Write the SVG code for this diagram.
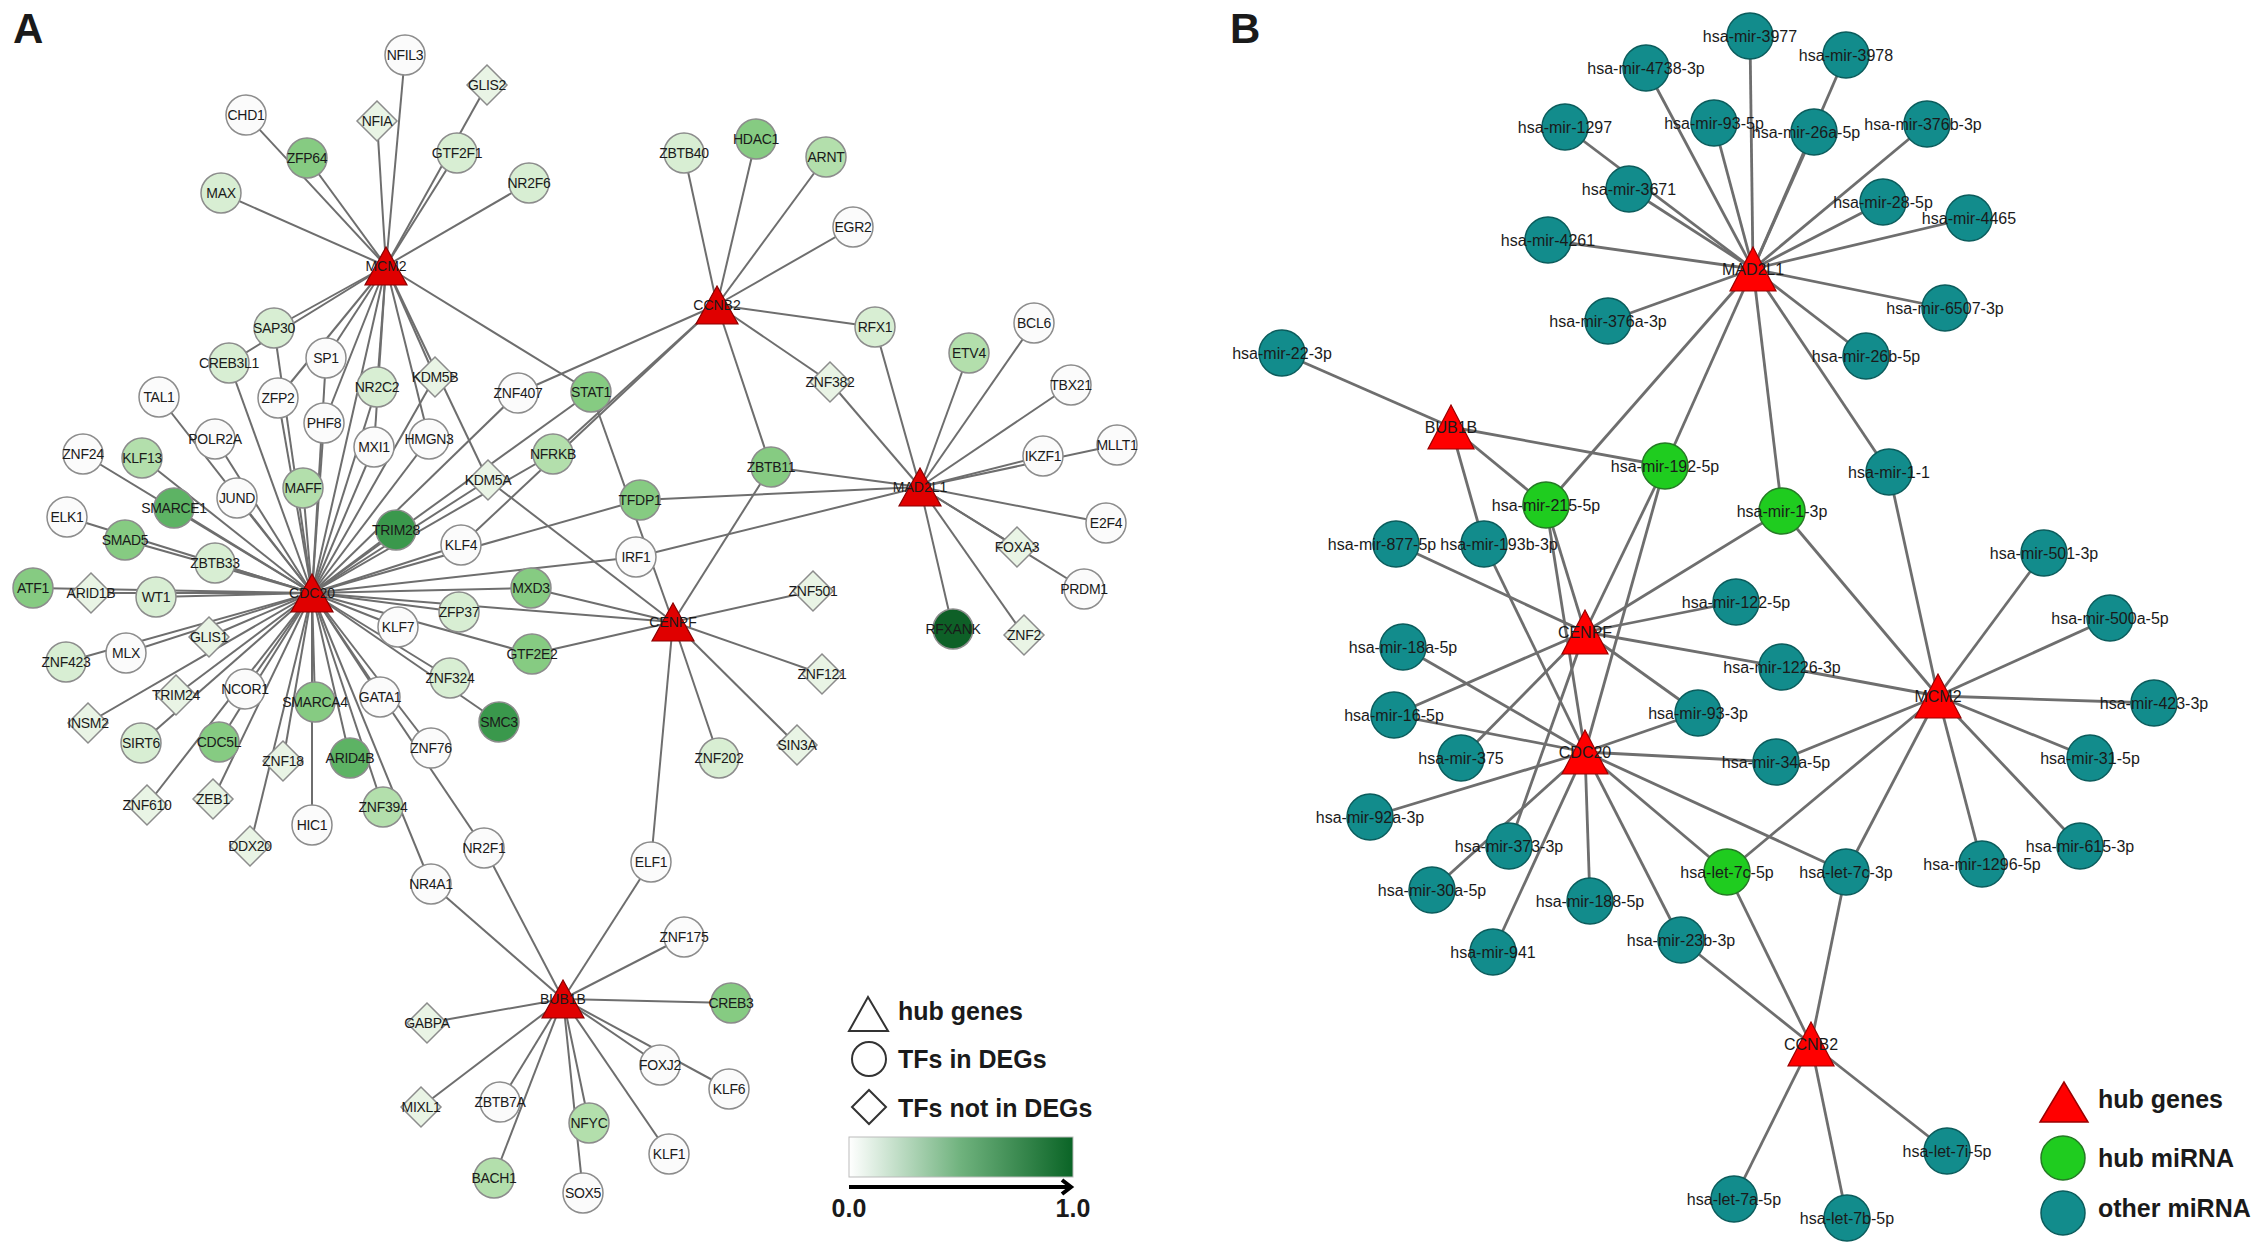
<svg xmlns="http://www.w3.org/2000/svg" width="2268" height="1256" viewBox="0 0 2268 1256">
<style>
text{font-family:"Liberation Sans",Arial,sans-serif;fill:#1a1a1a}
.ea line{stroke:#6e6e6e;stroke-width:2}
.eb line{stroke:#6e6e6e;stroke-width:2.8}
.na circle,.na polygon{stroke:#8c8c8c;stroke-width:1.5}
.na text{font-size:14px;text-anchor:middle;letter-spacing:-0.3px}
.nb text{font-size:16px;text-anchor:middle}
.hubA polygon{fill:#e00000;stroke:#8a0000;stroke-width:1.2}
.hubA text{font-size:14px;text-anchor:middle}
.hubB polygon{fill:#ff0000;stroke:#9a0000;stroke-width:1.2}
.hubB text{font-size:16px;text-anchor:middle}
.mi circle{fill:#128c8c;stroke:#0b5c5c;stroke-width:1.5}
.hm circle{fill:#1fcc1f;stroke:#257a25;stroke-width:1.5}
.w{fill:#fbfbfb}.l1{fill:#e9f4e5}.l2{fill:#d8eed3}.g3{fill:#b3dfac}.g4{fill:#86cb82}.g5{fill:#5db364}.g6{fill:#3a984c}.g7{fill:#0e6027}
.lg{font-size:25px;font-weight:bold}
.pl{font-size:42px;font-weight:bold}
</style>
<defs>
<linearGradient id="grad" x1="0" y1="0" x2="1" y2="0">
<stop offset="0" stop-color="#ffffff"/>
<stop offset="0.5" stop-color="#6fb27d"/>
<stop offset="1" stop-color="#0a6426"/>
</linearGradient>
</defs>
<rect width="2268" height="1256" fill="#ffffff"/>
<text class="pl" x="13" y="43">A</text>
<text class="pl" x="1230" y="43">B</text>

<g id="edges-a" class="ea">
<line x1="386" y1="266" x2="405" y2="55"/><line x1="386" y1="266" x2="487" y2="85"/><line x1="386" y1="266" x2="246" y2="115"/><line x1="386" y1="266" x2="377" y2="121"/><line x1="386" y1="266" x2="307" y2="158"/><line x1="386" y1="266" x2="457" y2="153"/><line x1="386" y1="266" x2="221" y2="193"/><line x1="386" y1="266" x2="529" y2="183"/><line x1="386" y1="266" x2="274" y2="328"/><line x1="386" y1="266" x2="229" y2="363"/><line x1="386" y1="266" x2="326" y2="358"/><line x1="386" y1="266" x2="278" y2="398"/><line x1="386" y1="266" x2="377" y2="387"/><line x1="386" y1="266" x2="435" y2="377"/><line x1="386" y1="266" x2="488" y2="480"/><line x1="386" y1="266" x2="324" y2="423"/><line x1="386" y1="266" x2="374" y2="447"/><line x1="386" y1="266" x2="429" y2="439"/><line x1="386" y1="266" x2="591" y2="392"/><line x1="386" y1="266" x2="312" y2="593"/>
<line x1="717" y1="305" x2="684" y2="153"/><line x1="717" y1="305" x2="756" y2="139"/><line x1="717" y1="305" x2="826" y2="157"/><line x1="717" y1="305" x2="853" y2="227"/><line x1="717" y1="305" x2="875" y2="327"/><line x1="717" y1="305" x2="830" y2="382"/><line x1="717" y1="305" x2="771" y2="467"/><line x1="717" y1="305" x2="518" y2="393"/><line x1="717" y1="305" x2="461" y2="545"/><line x1="717" y1="305" x2="553" y2="454"/>
<line x1="920" y1="487" x2="830" y2="382"/><line x1="920" y1="487" x2="875" y2="327"/><line x1="920" y1="487" x2="969" y2="353"/><line x1="920" y1="487" x2="1034" y2="323"/><line x1="920" y1="487" x2="1071" y2="385"/><line x1="920" y1="487" x2="1043" y2="456"/><line x1="920" y1="487" x2="1117" y2="445"/><line x1="920" y1="487" x2="1106" y2="523"/><line x1="920" y1="487" x2="1017" y2="547"/><line x1="920" y1="487" x2="1084" y2="589"/><line x1="920" y1="487" x2="953" y2="629"/><line x1="920" y1="487" x2="1024" y2="635"/><line x1="920" y1="487" x2="771" y2="467"/><line x1="920" y1="487" x2="640" y2="500"/><line x1="920" y1="487" x2="636" y2="557"/>
<line x1="673" y1="622" x2="813" y2="591"/><line x1="673" y1="622" x2="822" y2="674"/><line x1="673" y1="622" x2="797" y2="745"/><line x1="673" y1="622" x2="719" y2="758"/><line x1="673" y1="622" x2="651" y2="862"/><line x1="673" y1="622" x2="771" y2="467"/><line x1="673" y1="622" x2="488" y2="480"/><line x1="673" y1="622" x2="591" y2="392"/><line x1="673" y1="622" x2="532" y2="654"/><line x1="673" y1="622" x2="531" y2="588"/><line x1="673" y1="622" x2="312" y2="593"/>
<line x1="563" y1="999" x2="651" y2="862"/><line x1="563" y1="999" x2="484" y2="848"/><line x1="563" y1="999" x2="431" y2="884"/><line x1="563" y1="999" x2="684" y2="937"/><line x1="563" y1="999" x2="731" y2="1003"/><line x1="563" y1="999" x2="427" y2="1023"/><line x1="563" y1="999" x2="660" y2="1065"/><line x1="563" y1="999" x2="729" y2="1089"/><line x1="563" y1="999" x2="421" y2="1107"/><line x1="563" y1="999" x2="500" y2="1102"/><line x1="563" y1="999" x2="589" y2="1123"/><line x1="563" y1="999" x2="669" y2="1154"/><line x1="563" y1="999" x2="494" y2="1178"/><line x1="563" y1="999" x2="583" y2="1193"/>
<line x1="312" y1="593" x2="83" y2="454"/><line x1="312" y1="593" x2="142" y2="458"/><line x1="312" y1="593" x2="174" y2="508"/><line x1="312" y1="593" x2="67" y2="517"/><line x1="312" y1="593" x2="125" y2="540"/><line x1="312" y1="593" x2="215" y2="563"/><line x1="312" y1="593" x2="33" y2="588"/><line x1="312" y1="593" x2="91" y2="593"/><line x1="312" y1="593" x2="156" y2="597"/><line x1="312" y1="593" x2="66" y2="662"/><line x1="312" y1="593" x2="126" y2="653"/><line x1="312" y1="593" x2="209" y2="637"/><line x1="312" y1="593" x2="176" y2="695"/><line x1="312" y1="593" x2="88" y2="723"/><line x1="312" y1="593" x2="245" y2="689"/><line x1="312" y1="593" x2="141" y2="743"/><line x1="312" y1="593" x2="219" y2="742"/><line x1="312" y1="593" x2="147" y2="805"/><line x1="312" y1="593" x2="213" y2="799"/><line x1="312" y1="593" x2="283" y2="761"/><line x1="312" y1="593" x2="250" y2="846"/><line x1="312" y1="593" x2="312" y2="825"/><line x1="312" y1="593" x2="315" y2="702"/><line x1="312" y1="593" x2="350" y2="758"/><line x1="312" y1="593" x2="383" y2="807"/><line x1="312" y1="593" x2="431" y2="884"/><line x1="312" y1="593" x2="380" y2="697"/><line x1="312" y1="593" x2="431" y2="748"/><line x1="312" y1="593" x2="484" y2="848"/><line x1="312" y1="593" x2="450" y2="678"/><line x1="312" y1="593" x2="499" y2="722"/><line x1="312" y1="593" x2="398" y2="627"/><line x1="312" y1="593" x2="459" y2="612"/><line x1="312" y1="593" x2="532" y2="654"/><line x1="312" y1="593" x2="531" y2="588"/><line x1="312" y1="593" x2="461" y2="545"/><line x1="312" y1="593" x2="396" y2="530"/><line x1="312" y1="593" x2="488" y2="480"/><line x1="312" y1="593" x2="553" y2="454"/><line x1="312" y1="593" x2="518" y2="393"/><line x1="312" y1="593" x2="636" y2="557"/><line x1="312" y1="593" x2="640" y2="500"/><line x1="312" y1="593" x2="159" y2="397"/><line x1="312" y1="593" x2="215" y2="439"/><line x1="312" y1="593" x2="237" y2="498"/><line x1="312" y1="593" x2="303" y2="488"/><line x1="312" y1="593" x2="324" y2="423"/><line x1="312" y1="593" x2="326" y2="358"/><line x1="312" y1="593" x2="374" y2="447"/><line x1="312" y1="593" x2="429" y2="439"/><line x1="312" y1="593" x2="278" y2="398"/><line x1="312" y1="593" x2="229" y2="363"/><line x1="312" y1="593" x2="274" y2="328"/><line x1="312" y1="593" x2="377" y2="387"/><line x1="312" y1="593" x2="435" y2="377"/><line x1="312" y1="593" x2="591" y2="392"/>
</g>

<g id="edges-b" class="eb">
<line x1="1753" y1="269" x2="1750" y2="36"/><line x1="1753" y1="269" x2="1846" y2="55"/><line x1="1753" y1="269" x2="1646" y2="68"/><line x1="1753" y1="269" x2="1565" y2="127"/><line x1="1753" y1="269" x2="1714" y2="123"/><line x1="1753" y1="269" x2="1814" y2="132"/><line x1="1753" y1="269" x2="1927" y2="124"/><line x1="1753" y1="269" x2="1629" y2="189"/><line x1="1753" y1="269" x2="1883" y2="202"/><line x1="1753" y1="269" x2="1969" y2="218"/><line x1="1753" y1="269" x2="1548" y2="240"/><line x1="1753" y1="269" x2="1945" y2="308"/><line x1="1753" y1="269" x2="1608" y2="321"/><line x1="1753" y1="269" x2="1866" y2="356"/><line x1="1753" y1="269" x2="1546" y2="505"/><line x1="1753" y1="269" x2="1665" y2="466"/><line x1="1753" y1="269" x2="1782" y2="511"/><line x1="1753" y1="269" x2="1889" y2="472"/>
<line x1="1451" y1="427" x2="1282" y2="353"/><line x1="1451" y1="427" x2="1665" y2="466"/><line x1="1451" y1="427" x2="1546" y2="505"/><line x1="1451" y1="427" x2="1484" y2="544"/>
<line x1="1585" y1="632" x2="1396" y2="544"/><line x1="1585" y1="632" x2="1546" y2="505"/><line x1="1585" y1="632" x2="1665" y2="466"/><line x1="1585" y1="632" x2="1782" y2="511"/><line x1="1585" y1="632" x2="1736" y2="602"/><line x1="1585" y1="632" x2="1782" y2="667"/><line x1="1585" y1="632" x2="1698" y2="713"/><line x1="1585" y1="632" x2="1394" y2="715"/><line x1="1585" y1="632" x2="1461" y2="758"/><line x1="1585" y1="632" x2="1509" y2="846"/>
<line x1="1585" y1="752" x2="1484" y2="544"/><line x1="1585" y1="752" x2="1403" y2="647"/><line x1="1585" y1="752" x2="1394" y2="715"/><line x1="1585" y1="752" x2="1370" y2="817"/><line x1="1585" y1="752" x2="1432" y2="890"/><line x1="1585" y1="752" x2="1493" y2="952"/><line x1="1585" y1="752" x2="1590" y2="901"/><line x1="1585" y1="752" x2="1681" y2="940"/><line x1="1585" y1="752" x2="1727" y2="872"/><line x1="1585" y1="752" x2="1846" y2="872"/><line x1="1585" y1="752" x2="1776" y2="762"/><line x1="1585" y1="752" x2="1698" y2="713"/><line x1="1585" y1="752" x2="1546" y2="505"/><line x1="1585" y1="752" x2="1665" y2="466"/>
<line x1="1938" y1="696" x2="1889" y2="472"/><line x1="1938" y1="696" x2="1782" y2="511"/><line x1="1938" y1="696" x2="2044" y2="553"/><line x1="1938" y1="696" x2="2110" y2="618"/><line x1="1938" y1="696" x2="2154" y2="703"/><line x1="1938" y1="696" x2="2090" y2="758"/><line x1="1938" y1="696" x2="2080" y2="846"/><line x1="1938" y1="696" x2="1982" y2="864"/><line x1="1938" y1="696" x2="1846" y2="872"/><line x1="1938" y1="696" x2="1727" y2="872"/><line x1="1938" y1="696" x2="1776" y2="762"/><line x1="1938" y1="696" x2="1782" y2="667"/>
<line x1="1811" y1="1044" x2="1681" y2="940"/><line x1="1811" y1="1044" x2="1727" y2="872"/><line x1="1811" y1="1044" x2="1846" y2="872"/><line x1="1811" y1="1044" x2="1947" y2="1151"/><line x1="1811" y1="1044" x2="1734" y2="1199"/><line x1="1811" y1="1044" x2="1847" y2="1218"/>
</g>

<g id="nodes-a" class="na">
<g id="a-NFIL3"><circle class="w" cx="405" cy="55" r="20"/><text x="405" y="60">NFIL3</text></g>
<g id="a-GLIS2"><polygon class="l1" transform="translate(487,85)" points="0,-20 20,0 0,20 -20,0"/><text x="487" y="90">GLIS2</text></g>
<g id="a-CHD1"><circle class="w" cx="246" cy="115" r="20"/><text x="246" y="120">CHD1</text></g>
<g id="a-NFIA"><polygon class="l1" transform="translate(377,121)" points="0,-20 20,0 0,20 -20,0"/><text x="377" y="126">NFIA</text></g>
<g id="a-ZFP64"><circle class="g4" cx="307" cy="158" r="20"/><text x="307" y="163">ZFP64</text></g>
<g id="a-GTF2F1"><circle class="l2" cx="457" cy="153" r="20"/><text x="457" y="158">GTF2F1</text></g>
<g id="a-MAX"><circle class="l2" cx="221" cy="193" r="20"/><text x="221" y="198">MAX</text></g>
<g id="a-NR2F6"><circle class="l2" cx="529" cy="183" r="20"/><text x="529" y="188">NR2F6</text></g>
<g id="a-SAP30"><circle class="l2" cx="274" cy="328" r="20"/><text x="274" y="333">SAP30</text></g>
<g id="a-CREB3L1"><circle class="l2" cx="229" cy="363" r="20"/><text x="229" y="368">CREB3L1</text></g>
<g id="a-SP1"><circle class="w" cx="326" cy="358" r="20"/><text x="326" y="363">SP1</text></g>
<g id="a-ZFP2"><circle class="w" cx="278" cy="398" r="20"/><text x="278" y="403">ZFP2</text></g>
<g id="a-NR2C2"><circle class="l2" cx="377" cy="387" r="20"/><text x="377" y="392">NR2C2</text></g>
<g id="a-KDM5B"><polygon class="l1" transform="translate(435,377)" points="0,-20 20,0 0,20 -20,0"/><text x="435" y="382">KDM5B</text></g>
<g id="a-ZNF407"><circle class="w" cx="518" cy="393" r="20"/><text x="518" y="398">ZNF407</text></g>
<g id="a-STAT1"><circle class="g4" cx="591" cy="392" r="20"/><text x="591" y="397">STAT1</text></g>
<g id="a-TAL1"><circle class="w" cx="159" cy="397" r="20"/><text x="159" y="402">TAL1</text></g>
<g id="a-PHF8"><circle class="w" cx="324" cy="423" r="20"/><text x="324" y="428">PHF8</text></g>
<g id="a-POLR2A"><circle class="w" cx="215" cy="439" r="20"/><text x="215" y="444">POLR2A</text></g>
<g id="a-MXI1"><circle class="w" cx="374" cy="447" r="20"/><text x="374" y="452">MXI1</text></g>
<g id="a-HMGN3"><circle class="w" cx="429" cy="439" r="20"/><text x="429" y="444">HMGN3</text></g>
<g id="a-NFRKB"><circle class="g3" cx="553" cy="454" r="20"/><text x="553" y="459">NFRKB</text></g>
<g id="a-ZNF24"><circle class="w" cx="83" cy="454" r="20"/><text x="83" y="459">ZNF24</text></g>
<g id="a-KLF13"><circle class="g3" cx="142" cy="458" r="20"/><text x="142" y="463">KLF13</text></g>
<g id="a-KDM5A"><polygon class="l1" transform="translate(488,480)" points="0,-20 20,0 0,20 -20,0"/><text x="488" y="485">KDM5A</text></g>
<g id="a-JUND"><circle class="w" cx="237" cy="498" r="20"/><text x="237" y="503">JUND</text></g>
<g id="a-MAFF"><circle class="g3" cx="303" cy="488" r="20"/><text x="303" y="493">MAFF</text></g>
<g id="a-SMARCE1"><circle class="g5" cx="174" cy="508" r="20"/><text x="174" y="513">SMARCE1</text></g>
<g id="a-ELK1"><circle class="w" cx="67" cy="517" r="20"/><text x="67" y="522">ELK1</text></g>
<g id="a-TRIM28"><circle class="g6" cx="396" cy="530" r="20"/><text x="396" y="535">TRIM28</text></g>
<g id="a-KLF4"><circle class="w" cx="461" cy="545" r="20"/><text x="461" y="550">KLF4</text></g>
<g id="a-SMAD5"><circle class="g4" cx="125" cy="540" r="20"/><text x="125" y="545">SMAD5</text></g>
<g id="a-ZBTB33"><circle class="l2" cx="215" cy="563" r="20"/><text x="215" y="568">ZBTB33</text></g>
<g id="a-ATF1"><circle class="g4" cx="33" cy="588" r="20"/><text x="33" y="593">ATF1</text></g>
<g id="a-ARID1B"><polygon class="l1" transform="translate(91,593)" points="0,-20 20,0 0,20 -20,0"/><text x="91" y="598">ARID1B</text></g>
<g id="a-WT1"><circle class="l2" cx="156" cy="597" r="20"/><text x="156" y="602">WT1</text></g>
<g id="a-MXD3"><circle class="g4" cx="531" cy="588" r="20"/><text x="531" y="593">MXD3</text></g>
<g id="a-ZFP37"><circle class="l2" cx="459" cy="612" r="20"/><text x="459" y="617">ZFP37</text></g>
<g id="a-KLF7"><circle class="w" cx="398" cy="627" r="20"/><text x="398" y="632">KLF7</text></g>
<g id="a-GLIS1"><polygon class="l1" transform="translate(209,637)" points="0,-20 20,0 0,20 -20,0"/><text x="209" y="642">GLIS1</text></g>
<g id="a-MLX"><circle class="w" cx="126" cy="653" r="20"/><text x="126" y="658">MLX</text></g>
<g id="a-ZNF423"><circle class="l2" cx="66" cy="662" r="20"/><text x="66" y="667">ZNF423</text></g>
<g id="a-GTF2E2"><circle class="g4" cx="532" cy="654" r="20"/><text x="532" y="659">GTF2E2</text></g>
<g id="a-ZNF324"><circle class="l2" cx="450" cy="678" r="20"/><text x="450" y="683">ZNF324</text></g>
<g id="a-TRIM24"><polygon class="l1" transform="translate(176,695)" points="0,-20 20,0 0,20 -20,0"/><text x="176" y="700">TRIM24</text></g>
<g id="a-NCOR1"><circle class="w" cx="245" cy="689" r="20"/><text x="245" y="694">NCOR1</text></g>
<g id="a-GATA1"><circle class="w" cx="380" cy="697" r="20"/><text x="380" y="702">GATA1</text></g>
<g id="a-SMARCA4"><circle class="g4" cx="315" cy="702" r="20"/><text x="315" y="707">SMARCA4</text></g>
<g id="a-SMC3"><circle class="g6" cx="499" cy="722" r="20"/><text x="499" y="727">SMC3</text></g>
<g id="a-INSM2"><polygon class="l1" transform="translate(88,723)" points="0,-20 20,0 0,20 -20,0"/><text x="88" y="728">INSM2</text></g>
<g id="a-SIRT6"><circle class="l2" cx="141" cy="743" r="20"/><text x="141" y="748">SIRT6</text></g>
<g id="a-CDC5L"><circle class="g4" cx="219" cy="742" r="20"/><text x="219" y="747">CDC5L</text></g>
<g id="a-ZNF18"><polygon class="l1" transform="translate(283,761)" points="0,-20 20,0 0,20 -20,0"/><text x="283" y="766">ZNF18</text></g>
<g id="a-ARID4B"><circle class="g5" cx="350" cy="758" r="20"/><text x="350" y="763">ARID4B</text></g>
<g id="a-ZNF76"><circle class="w" cx="431" cy="748" r="20"/><text x="431" y="753">ZNF76</text></g>
<g id="a-ZNF610"><polygon class="l1" transform="translate(147,805)" points="0,-20 20,0 0,20 -20,0"/><text x="147" y="810">ZNF610</text></g>
<g id="a-ZEB1"><polygon class="l1" transform="translate(213,799)" points="0,-20 20,0 0,20 -20,0"/><text x="213" y="804">ZEB1</text></g>
<g id="a-ZNF394"><circle class="g3" cx="383" cy="807" r="20"/><text x="383" y="812">ZNF394</text></g>
<g id="a-HIC1"><circle class="w" cx="312" cy="825" r="20"/><text x="312" y="830">HIC1</text></g>
<g id="a-DDX20"><polygon class="l1" transform="translate(250,846)" points="0,-20 20,0 0,20 -20,0"/><text x="250" y="851">DDX20</text></g>
<g id="a-NR2F1"><circle class="w" cx="484" cy="848" r="20"/><text x="484" y="853">NR2F1</text></g>
<g id="a-NR4A1"><circle class="w" cx="431" cy="884" r="20"/><text x="431" y="889">NR4A1</text></g>
<g id="a-ZBTB40"><circle class="l2" cx="684" cy="153" r="20"/><text x="684" y="158">ZBTB40</text></g>
<g id="a-HDAC1"><circle class="g4" cx="756" cy="139" r="20"/><text x="756" y="144">HDAC1</text></g>
<g id="a-ARNT"><circle class="g3" cx="826" cy="157" r="20"/><text x="826" y="162">ARNT</text></g>
<g id="a-EGR2"><circle class="w" cx="853" cy="227" r="20"/><text x="853" y="232">EGR2</text></g>
<g id="a-RFX1"><circle class="l2" cx="875" cy="327" r="20"/><text x="875" y="332">RFX1</text></g>
<g id="a-BCL6"><circle class="w" cx="1034" cy="323" r="20"/><text x="1034" y="328">BCL6</text></g>
<g id="a-ETV4"><circle class="g3" cx="969" cy="353" r="20"/><text x="969" y="358">ETV4</text></g>
<g id="a-TBX21"><circle class="w" cx="1071" cy="385" r="20"/><text x="1071" y="390">TBX21</text></g>
<g id="a-ZNF382"><polygon class="l1" transform="translate(830,382)" points="0,-20 20,0 0,20 -20,0"/><text x="830" y="387">ZNF382</text></g>
<g id="a-ZBTB11"><circle class="g4" cx="771" cy="467" r="20"/><text x="771" y="472">ZBTB11</text></g>
<g id="a-TFDP1"><circle class="g4" cx="640" cy="500" r="20"/><text x="640" y="505">TFDP1</text></g>
<g id="a-IKZF1"><circle class="w" cx="1043" cy="456" r="20"/><text x="1043" y="461">IKZF1</text></g>
<g id="a-MLLT1"><circle class="w" cx="1117" cy="445" r="20"/><text x="1117" y="450">MLLT1</text></g>
<g id="a-E2F4"><circle class="w" cx="1106" cy="523" r="20"/><text x="1106" y="528">E2F4</text></g>
<g id="a-IRF1"><circle class="w" cx="636" cy="557" r="20"/><text x="636" y="562">IRF1</text></g>
<g id="a-FOXA3"><polygon class="l1" transform="translate(1017,547)" points="0,-20 20,0 0,20 -20,0"/><text x="1017" y="552">FOXA3</text></g>
<g id="a-PRDM1"><circle class="w" cx="1084" cy="589" r="20"/><text x="1084" y="594">PRDM1</text></g>
<g id="a-ZNF501"><polygon class="l1" transform="translate(813,591)" points="0,-20 20,0 0,20 -20,0"/><text x="813" y="596">ZNF501</text></g>
<g id="a-RFXANK"><circle class="g7" cx="953" cy="629" r="20"/><text x="953" y="634">RFXANK</text></g>
<g id="a-ZNF2"><polygon class="l1" transform="translate(1024,635)" points="0,-20 20,0 0,20 -20,0"/><text x="1024" y="640">ZNF2</text></g>
<g id="a-ZNF121"><polygon class="l1" transform="translate(822,674)" points="0,-20 20,0 0,20 -20,0"/><text x="822" y="679">ZNF121</text></g>
<g id="a-SIN3A"><polygon class="l1" transform="translate(797,745)" points="0,-20 20,0 0,20 -20,0"/><text x="797" y="750">SIN3A</text></g>
<g id="a-ZNF202"><circle class="l2" cx="719" cy="758" r="20"/><text x="719" y="763">ZNF202</text></g>
<g id="a-ELF1"><circle class="w" cx="651" cy="862" r="20"/><text x="651" y="867">ELF1</text></g>
<g id="a-ZNF175"><circle class="w" cx="684" cy="937" r="20"/><text x="684" y="942">ZNF175</text></g>
<g id="a-CREB3"><circle class="g4" cx="731" cy="1003" r="20"/><text x="731" y="1008">CREB3</text></g>
<g id="a-GABPA"><polygon class="l1" transform="translate(427,1023)" points="0,-20 20,0 0,20 -20,0"/><text x="427" y="1028">GABPA</text></g>
<g id="a-FOXJ2"><circle class="w" cx="660" cy="1065" r="20"/><text x="660" y="1070">FOXJ2</text></g>
<g id="a-KLF6"><circle class="w" cx="729" cy="1089" r="20"/><text x="729" y="1094">KLF6</text></g>
<g id="a-MIXL1"><polygon class="l1" transform="translate(421,1107)" points="0,-20 20,0 0,20 -20,0"/><text x="421" y="1112">MIXL1</text></g>
<g id="a-ZBTB7A"><circle class="w" cx="500" cy="1102" r="20"/><text x="500" y="1107">ZBTB7A</text></g>
<g id="a-NFYC"><circle class="g3" cx="589" cy="1123" r="20"/><text x="589" y="1128">NFYC</text></g>
<g id="a-KLF1"><circle class="w" cx="669" cy="1154" r="20"/><text x="669" y="1159">KLF1</text></g>
<g id="a-BACH1"><circle class="g3" cx="494" cy="1178" r="20"/><text x="494" y="1183">BACH1</text></g>
<g id="a-SOX5"><circle class="w" cx="583" cy="1193" r="20"/><text x="583" y="1198">SOX5</text></g>
</g>

<g id="hubs-a">
<g id="a-MCM2" class="hubA"><polygon transform="translate(386,266)" points="0,-19 -21,19 21,19"/><text x="386" y="271">MCM2</text></g>
<g id="a-CCNB2" class="hubA"><polygon transform="translate(717,305)" points="0,-19 -21,19 21,19"/><text x="717" y="310">CCNB2</text></g>
<g id="a-MAD2L1" class="hubA"><polygon transform="translate(920,487)" points="0,-19 -21,19 21,19"/><text x="920" y="492">MAD2L1</text></g>
<g id="a-CDC20" class="hubA"><polygon transform="translate(312,593)" points="0,-19 -21,19 21,19"/><text x="312" y="598">CDC20</text></g>
<g id="a-CENPF" class="hubA"><polygon transform="translate(673,622)" points="0,-19 -21,19 21,19"/><text x="673" y="627">CENPF</text></g>
<g id="a-BUB1B" class="hubA"><polygon transform="translate(563,999)" points="0,-19 -21,19 21,19"/><text x="563" y="1004">BUB1B</text></g>
</g>

<g id="legend-a">
<polygon points="868,997 849,1031 888,1031" fill="#ffffff" stroke="#333" stroke-width="2"/>
<text class="lg" x="898" y="1020">hub genes</text>
<circle cx="869" cy="1059" r="17" fill="#ffffff" stroke="#333" stroke-width="2"/>
<text class="lg" x="898" y="1068">TFs in DEGs</text>
<polygon points="869,1090 886,1107 869,1124 852,1107" fill="#ffffff" stroke="#333" stroke-width="2"/>
<text class="lg" x="898" y="1117">TFs not in DEGs</text>
<rect x="849" y="1137" width="224" height="40" fill="url(#grad)" stroke="#bbbbbb" stroke-width="1"/>
<line x1="849" y1="1187" x2="1070" y2="1187" stroke="#000" stroke-width="4"/>
<polyline points="1062,1180 1071,1187 1062,1194" fill="none" stroke="#000" stroke-width="4"/>
<text class="lg" x="849" y="1217" text-anchor="middle">0.0</text>
<text class="lg" x="1073" y="1217" text-anchor="middle">1.0</text>
</g>

<g id="nodes-b" class="nb">
<g id="b-mir-3977" class="mi"><circle cx="1750" cy="36" r="23"/><text x="1750" y="42">hsa-mir-3977</text></g>
<g id="b-mir-3978" class="mi"><circle cx="1846" cy="55" r="23"/><text x="1846" y="61">hsa-mir-3978</text></g>
<g id="b-mir-4738-3p" class="mi"><circle cx="1646" cy="68" r="23"/><text x="1646" y="74">hsa-mir-4738-3p</text></g>
<g id="b-mir-1297" class="mi"><circle cx="1565" cy="127" r="23"/><text x="1565" y="133">hsa-mir-1297</text></g>
<g id="b-mir-93-5p" class="mi"><circle cx="1714" cy="123" r="23"/><text x="1714" y="129">hsa-mir-93-5p</text></g>
<g id="b-mir-26a-5p" class="mi"><circle cx="1814" cy="132" r="23"/><text x="1806" y="138">hsa-mir-26a-5p</text></g>
<g id="b-mir-376b-3p" class="mi"><circle cx="1927" cy="124" r="23"/><text x="1923" y="130">hsa-mir-376b-3p</text></g>
<g id="b-mir-3671" class="mi"><circle cx="1629" cy="189" r="23"/><text x="1629" y="195">hsa-mir-3671</text></g>
<g id="b-mir-28-5p" class="mi"><circle cx="1883" cy="202" r="23"/><text x="1883" y="208">hsa-mir-28-5p</text></g>
<g id="b-mir-4465" class="mi"><circle cx="1969" cy="218" r="23"/><text x="1969" y="224">hsa-mir-4465</text></g>
<g id="b-mir-4261" class="mi"><circle cx="1548" cy="240" r="23"/><text x="1548" y="246">hsa-mir-4261</text></g>
<g id="b-mir-6507-3p" class="mi"><circle cx="1945" cy="308" r="23"/><text x="1945" y="314">hsa-mir-6507-3p</text></g>
<g id="b-mir-376a-3p" class="mi"><circle cx="1608" cy="321" r="23"/><text x="1608" y="327">hsa-mir-376a-3p</text></g>
<g id="b-mir-26b-5p" class="mi"><circle cx="1866" cy="356" r="23"/><text x="1866" y="362">hsa-mir-26b-5p</text></g>
<g id="b-mir-22-3p" class="mi"><circle cx="1282" cy="353" r="23"/><text x="1282" y="359">hsa-mir-22-3p</text></g>
<g id="b-mir-192-5p" class="hm"><circle cx="1665" cy="466" r="23"/><text x="1665" y="472">hsa-mir-192-5p</text></g>
<g id="b-mir-1-1" class="mi"><circle cx="1889" cy="472" r="23"/><text x="1889" y="478">hsa-mir-1-1</text></g>
<g id="b-mir-215-5p" class="hm"><circle cx="1546" cy="505" r="23"/><text x="1546" y="511">hsa-mir-215-5p</text></g>
<g id="b-mir-1-3p" class="hm"><circle cx="1782" cy="511" r="23"/><text x="1782" y="517">hsa-mir-1-3p</text></g>
<g id="b-mir-877-5p" class="mi"><circle cx="1396" cy="544" r="23"/><text x="1382" y="550">hsa-mir-877-5p</text></g>
<g id="b-mir-193b-3p" class="mi"><circle cx="1484" cy="544" r="23"/><text x="1499" y="550">hsa-mir-193b-3p</text></g>
<g id="b-mir-501-3p" class="mi"><circle cx="2044" cy="553" r="23"/><text x="2044" y="559">hsa-mir-501-3p</text></g>
<g id="b-mir-122-5p" class="mi"><circle cx="1736" cy="602" r="23"/><text x="1736" y="608">hsa-mir-122-5p</text></g>
<g id="b-mir-500a-5p" class="mi"><circle cx="2110" cy="618" r="23"/><text x="2110" y="624">hsa-mir-500a-5p</text></g>
<g id="b-mir-18a-5p" class="mi"><circle cx="1403" cy="647" r="23"/><text x="1403" y="653">hsa-mir-18a-5p</text></g>
<g id="b-mir-1226-3p" class="mi"><circle cx="1782" cy="667" r="23"/><text x="1782" y="673">hsa-mir-1226-3p</text></g>
<g id="b-mir-423-3p" class="mi"><circle cx="2154" cy="703" r="23"/><text x="2154" y="709">hsa-mir-423-3p</text></g>
<g id="b-mir-16-5p" class="mi"><circle cx="1394" cy="715" r="23"/><text x="1394" y="721">hsa-mir-16-5p</text></g>
<g id="b-mir-93-3p" class="mi"><circle cx="1698" cy="713" r="23"/><text x="1698" y="719">hsa-mir-93-3p</text></g>
<g id="b-mir-375" class="mi"><circle cx="1461" cy="758" r="23"/><text x="1461" y="764">hsa-mir-375</text></g>
<g id="b-mir-34a-5p" class="mi"><circle cx="1776" cy="762" r="23"/><text x="1776" y="768">hsa-mir-34a-5p</text></g>
<g id="b-mir-31-5p" class="mi"><circle cx="2090" cy="758" r="23"/><text x="2090" y="764">hsa-mir-31-5p</text></g>
<g id="b-mir-92a-3p" class="mi"><circle cx="1370" cy="817" r="23"/><text x="1370" y="823">hsa-mir-92a-3p</text></g>
<g id="b-mir-373-3p" class="mi"><circle cx="1509" cy="846" r="23"/><text x="1509" y="852">hsa-mir-373-3p</text></g>
<g id="b-mir-615-3p" class="mi"><circle cx="2080" cy="846" r="23"/><text x="2080" y="852">hsa-mir-615-3p</text></g>
<g id="b-mir-1296-5p" class="mi"><circle cx="1982" cy="864" r="23"/><text x="1982" y="870">hsa-mir-1296-5p</text></g>
<g id="b-let-7c-5p" class="hm"><circle cx="1727" cy="872" r="23"/><text x="1727" y="878">hsa-let-7c-5p</text></g>
<g id="b-let-7c-3p" class="mi"><circle cx="1846" cy="872" r="23"/><text x="1846" y="878">hsa-let-7c-3p</text></g>
<g id="b-mir-30a-5p" class="mi"><circle cx="1432" cy="890" r="23"/><text x="1432" y="896">hsa-mir-30a-5p</text></g>
<g id="b-mir-188-5p" class="mi"><circle cx="1590" cy="901" r="23"/><text x="1590" y="907">hsa-mir-188-5p</text></g>
<g id="b-mir-23b-3p" class="mi"><circle cx="1681" cy="940" r="23"/><text x="1681" y="946">hsa-mir-23b-3p</text></g>
<g id="b-mir-941" class="mi"><circle cx="1493" cy="952" r="23"/><text x="1493" y="958">hsa-mir-941</text></g>
<g id="b-let-7i-5p" class="mi"><circle cx="1947" cy="1151" r="23"/><text x="1947" y="1157">hsa-let-7i-5p</text></g>
<g id="b-let-7a-5p" class="mi"><circle cx="1734" cy="1199" r="23"/><text x="1734" y="1205">hsa-let-7a-5p</text></g>
<g id="b-let-7b-5p" class="mi"><circle cx="1847" cy="1218" r="23"/><text x="1847" y="1224">hsa-let-7b-5p</text></g>
</g>

<g id="hubs-b">
<g id="b-MAD2L1" class="hubB"><polygon transform="translate(1753,269)" points="0,-22 -23,22 23,22"/><text x="1753" y="275">MAD2L1</text></g>
<g id="b-BUB1B" class="hubB"><polygon transform="translate(1451,427)" points="0,-22 -23,22 23,22"/><text x="1451" y="433">BUB1B</text></g>
<g id="b-CENPF" class="hubB"><polygon transform="translate(1585,632)" points="0,-22 -23,22 23,22"/><text x="1585" y="638">CENPF</text></g>
<g id="b-CDC20" class="hubB"><polygon transform="translate(1585,752)" points="0,-22 -23,22 23,22"/><text x="1585" y="758">CDC20</text></g>
<g id="b-MCM2" class="hubB"><polygon transform="translate(1938,696)" points="0,-22 -23,22 23,22"/><text x="1938" y="702">MCM2</text></g>
<g id="b-CCNB2" class="hubB"><polygon transform="translate(1811,1044)" points="0,-22 -23,22 23,22"/><text x="1811" y="1050">CCNB2</text></g>
</g>

<g id="legend-b">
<polygon points="2064,1082 2040,1122 2088,1122" fill="#ff0000" stroke="#9a0000" stroke-width="1.5"/>
<text class="lg" x="2098" y="1108">hub genes</text>
<circle cx="2063" cy="1158" r="22" fill="#1fcc1f" stroke="#257a25" stroke-width="1.5"/>
<text class="lg" x="2098" y="1167">hub miRNA</text>
<circle cx="2063" cy="1213" r="22" fill="#128c8c" stroke="#0b5c5c" stroke-width="1.5"/>
<text class="lg" x="2098" y="1217">other miRNA</text>
</g>
</svg>
